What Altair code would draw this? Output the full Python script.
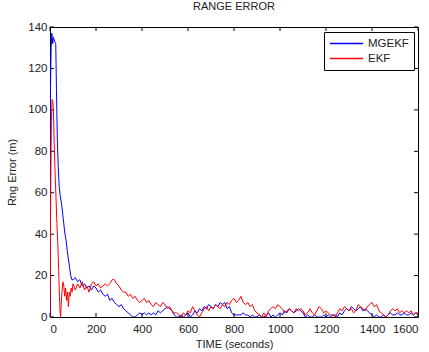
import altair as alt
import pandas as pd

# MGEKF (blue) series
mgekf_t = [0, 2, 5, 8, 12, 15, 20, 25, 28, 32, 36, 40, 45, 50, 55, 60, 65, 70, 75, 80, 85, 90, 95,
           100, 110, 120, 130, 140, 150, 160, 170, 180, 190, 200, 210, 220, 230, 240, 250, 260, 270, 280, 290,
           300, 310, 320, 330, 340, 350, 360, 370, 380, 390, 400, 410, 420, 430, 440, 450, 460, 470, 480, 490,
           500, 510, 520, 530, 540, 550, 560, 570, 580, 590, 600, 610, 620, 630, 640, 650, 660, 670, 680, 690,
           700, 710, 720, 730, 740, 750, 760, 770, 780, 790, 800, 810, 820, 830, 840, 850, 860, 870, 880, 890,
           900, 910, 920, 930, 940, 950, 960, 970, 980, 990, 1000, 1010, 1020, 1030, 1040, 1050, 1060, 1070,
           1080, 1090, 1100, 1110, 1120, 1130, 1140, 1150, 1160, 1170, 1180, 1190, 1200, 1210, 1220, 1230,
           1240, 1250, 1260, 1270, 1280, 1290, 1300, 1310, 1320, 1330, 1340, 1350, 1360, 1370, 1380, 1390,
           1400, 1410, 1420, 1430, 1440, 1450, 1460, 1470, 1480, 1490, 1500, 1510, 1520, 1530, 1540, 1550,
           1560, 1570, 1580, 1590, 1600]
mgekf_v = [0, 110, 130, 137, 132, 135, 133, 132, 110, 85, 72, 63, 58, 55, 50, 45, 40, 37, 32, 28, 24, 20, 18,
           18, 19, 17, 18, 15, 16, 14, 15, 13, 15, 14, 12, 13, 11, 10, 11, 8, 9, 7, 6,
           5, 6, 4, 3, 2, 1, 0, 0, 1, 2, 1, 2, 1, 2, 1, 2, 1, 3, 2, 3,
           4, 5, 4, 3, 1, 0, 0, 1, 0, 1, 2, 0, 1, 3, 2, 4, 3, 5, 4, 6,
           5, 4, 6, 5, 7, 6, 7, 4, 5, 2, 1, 1, 1, 1, 2, 1, 1, 0, 1, 0,
           0, 1, 0, 0, 1, 2, 0, 1, 0, 1, 2, 1, 3, 2, 4, 3, 2, 3,
           4, 3, 2, 0, 1, 0, 0, 1, 0, 0, 0, 1, 0, 1, 0, 1,
           1, 0, 2, 1, 3, 4, 3, 5, 4, 3, 4, 5, 3, 4, 3, 2,
           1, 0, 1, 0, 0, 1, 0, 1, 2, 1, 1, 2, 1, 1, 2, 1,
           1, 2, 1, 2, 1]

# EKF (red) series
ekf_t = [0, 3, 6, 9, 12, 15, 18, 22, 26, 30, 34, 38, 41, 44, 46, 48, 52, 56, 60, 64, 68, 72, 76, 80, 84,
         88, 92, 96, 100, 110, 120, 130, 140, 150, 160, 170, 180, 190, 200, 210, 220, 230, 240, 250, 260,
         270, 280, 290, 300, 310, 320, 330, 340, 350, 360, 370, 380, 390, 400, 410, 420, 430, 440, 450, 460,
         470, 480, 490, 500, 510, 520, 530, 540, 550, 560, 570, 580, 590, 600, 610, 620, 630, 640, 650, 660,
         670, 680, 690, 700, 710, 720, 730, 740, 750, 760, 770, 780, 790, 800, 810, 820, 830, 840, 850, 860,
         870, 880, 890, 900, 910, 920, 930, 940, 950, 960, 970, 980, 990, 1000, 1010, 1020, 1030, 1040, 1050,
         1060, 1070, 1080, 1090, 1100, 1110, 1120, 1130, 1140, 1150, 1160, 1170, 1180, 1190, 1200, 1210, 1220,
         1230, 1240, 1250, 1260, 1270, 1280, 1290, 1300, 1310, 1320, 1330, 1340, 1350, 1360, 1370, 1380, 1390,
         1400, 1410, 1420, 1430, 1440, 1450, 1460, 1470, 1480, 1490, 1500, 1510, 1520, 1530, 1540, 1550, 1560,
         1570, 1580, 1590, 1600]
ekf_v = [0, 60, 95, 105, 104, 100, 85, 70, 58, 45, 35, 22, 10, 2, 0, 5, 12, 17, 15, 10, 14, 8, 12, 5, 12,
         10, 14, 12, 16, 13, 16, 14, 17, 13, 15, 12, 16, 17, 15, 16, 14, 15, 16, 15, 16,
         18, 18, 16, 15, 13, 12, 12, 10, 11, 9, 10, 8, 7, 8, 9, 7, 8, 6, 5, 7,
         6, 5, 7, 6, 4, 5, 3, 2, 2, 1, 0, 2, 1, 3, 2, 5, 3, 1, 0, 2,
         4, 5, 3, 5, 4, 6, 5, 4, 6, 5, 7, 6, 8, 9, 7, 8, 10, 7, 6, 7,
         5, 6, 3, 2, 1, 0, 2, 0, 3, 4, 5, 4, 6, 5, 4, 2, 3, 4, 3,
         2, 4, 3, 4, 3, 1, 2, 4, 2, 1, 3, 5, 4, 2, 3, 2, 1,
         1, 0, 2, 4, 3, 5, 4, 3, 4, 2, 3, 6, 5, 4, 3, 5, 6,
         7, 5, 6, 3, 2, 1, 0, 1, 3, 4, 3, 4, 2, 3, 2, 3, 2,
         3, 1, 2, 2]

x_ticks = [0, 200, 400, 600, 800, 1000, 1200, 1400, 1600]
y_ticks = [0, 20, 40, 60, 80, 100, 120, 140]

W, H = 368, 290
FONT = "Liberation Sans"

df = pd.concat([
    pd.DataFrame({"t": mgekf_t, "v": mgekf_v, "s": "MGEKF", "o": 0}),
    pd.DataFrame({"t": ekf_t, "v": ekf_v, "s": "EKF", "o": 1}),
])

xs = alt.Scale(domain=[0, 1600], nice=False)
ys = alt.Scale(domain=[0, 140], nice=False)

lines = alt.Chart(df).mark_line(strokeWidth=1, clip=True).encode(
    x=alt.X("t:Q", scale=xs, axis=alt.Axis(values=x_ticks, format="d", ticks=False, grid=False, domain=False,
                                           labelPadding=6, title="TIME (seconds)", titlePadding=4)),
    y=alt.Y("v:Q", scale=ys, axis=alt.Axis(values=y_ticks, format="d", ticks=False, grid=False, domain=False,
                                           labelPadding=3, title="Rng Error (m)", titlePadding=10)),
    color=alt.Color("s:N", scale=alt.Scale(domain=["MGEKF", "EKF"], range=["#0000ff", "#ff0000"]),
                    legend=alt.Legend(title=None, orient="none", legendX=274, legendY=5,
                                      symbolType="stroke", symbolSize=1100, symbolStrokeWidth=1.5,
                                      clipHeight=13, labelOffset=4,
                                      labelFontSize=11.5, labelFont=FONT, labelColor="#222",
                                      strokeColor="black", fillColor="white", padding=5,
                                      rowPadding=2, cornerRadius=0)),
    order=alt.Order("o:Q"),
    detail="s:N",
)

xt = pd.DataFrame({"t": x_ticks})
yt = pd.DataFrame({"v": y_ticks})
tick_bottom = alt.Chart(xt).mark_rule(color="black").encode(
    x=alt.X("t:Q", scale=xs), y=alt.value(H), y2=alt.value(H - 4))
tick_top = alt.Chart(xt).mark_rule(color="black").encode(
    x=alt.X("t:Q", scale=xs), y=alt.value(0), y2=alt.value(4))
tick_left = alt.Chart(yt).mark_rule(color="black").encode(
    y=alt.Y("v:Q", scale=ys), x=alt.value(0), x2=alt.value(4))
tick_right = alt.Chart(yt).mark_rule(color="black").encode(
    y=alt.Y("v:Q", scale=ys), x=alt.value(W), x2=alt.value(W - 4))

chart = alt.layer(tick_bottom, tick_top, tick_left, tick_right, lines).properties(
    width=W, height=H,
    title=alt.TitleParams("RANGE ERROR", fontSize=11, fontWeight="normal", font=FONT,
                          color="#222", offset=9),
    autosize=alt.AutoSizeParams(type="none"),
    padding={"left": 50, "top": 27, "right": 11, "bottom": 35},
    background="white",
).configure_view(stroke="black", strokeWidth=1).configure_axis(
    labelFont=FONT, labelFontSize=11.5, labelColor="#222",
    titleFont=FONT, titleFontSize=11, titleFontWeight="normal", titleColor="#222",
)

chart.save("out.html", embed_options={"renderer": "svg", "actions": False})
